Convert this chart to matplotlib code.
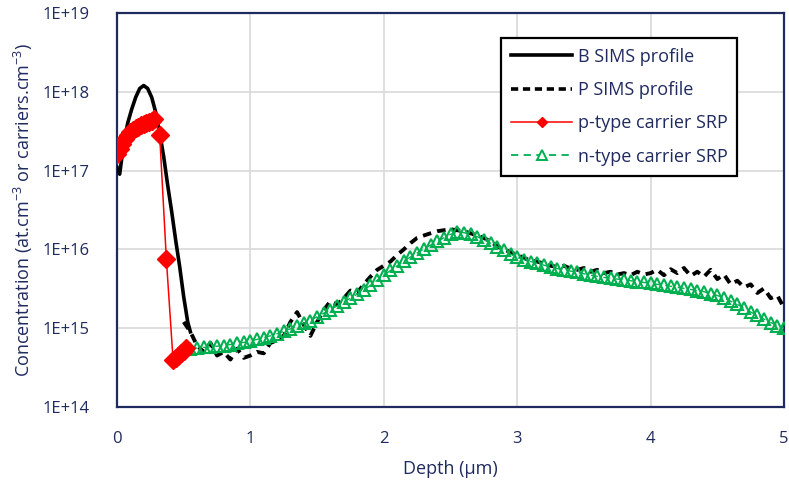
import numpy as np
import matplotlib
matplotlib.use('Agg')
import matplotlib.pyplot as plt
from matplotlib.lines import Line2D
from matplotlib.ticker import FixedLocator, FixedFormatter

plt.rcParams['font.family'] = ['Open Sans', 'DejaVu Sans']
plt.rcParams['mathtext.fontset'] = 'custom'
plt.rcParams['mathtext.rm'] = 'Open Sans'
plt.rcParams['mathtext.default'] = 'regular'

navy = '#1F2A5E'
green = '#00B050'

# B SIMS profile (solid black)
b_depth = [0.0, 0.02, 0.05, 0.08, 0.11, 0.14, 0.17, 0.20, 0.23, 0.26, 0.29, 0.32,
           0.35, 0.38, 0.41, 0.44, 0.47, 0.50, 0.53, 0.55]
b_conc = [1.1e17, 9e16, 2.2e17, 4.0e17, 6.0e17, 8.5e17, 1.1e18, 1.2e18, 1.1e18, 8.5e17,
          5.5e17, 3.0e17, 1.5e17, 6.5e16, 3.0e16, 1.3e16, 6.0e15, 2.5e15, 1.2e15, 9e14]

# P SIMS profile (dashed black), depth 0.50 .. 5.00 step 0.05, units 1e14
p_depth = np.round(np.arange(0.50, 5.001, 0.05), 2)
p_conc = np.array([
    12, 9, 6, 5, 6.5, 4.5, 5, 4, 5.5, 4.2,
    4.5, 5, 4.8, 6.5, 7, 8, 12, 16, 11, 8,
    12, 17, 22, 20, 24, 30, 28, 36, 45, 55,
    62, 70, 85, 100, 120, 140, 150, 160, 170, 175,
    180, 175, 170, 160, 150, 140, 125, 110, 100, 92,
    85, 78, 72, 70, 66, 62, 60, 62, 57, 55,
    58, 52, 55, 50, 52, 48, 50, 47, 52, 48,
    50, 55, 47, 56, 50, 58, 46, 52, 45, 55,
    42, 48, 36, 40, 33, 36, 28, 32, 24, 26,
    18]) * 1e14

# p-type carrier SRP (red diamonds)
ps_depth = [0.0, 0.02, 0.04, 0.06, 0.08, 0.10, 0.12, 0.14, 0.16, 0.18, 0.20, 0.22,
            0.24, 0.26, 0.28, 0.32, 0.37, 0.42, 0.44, 0.46, 0.48, 0.50, 0.52]
ps_conc = [1.6e17, 1.9e17, 2.2e17, 2.5e17, 2.8e17, 3.1e17, 3.3e17, 3.5e17, 3.6e17,
           3.8e17, 3.9e17, 4.0e17, 4.1e17, 4.3e17, 4.5e17, 2.8e17, 7.5e15, 4.0e14,
           4.2e14, 4.5e14, 4.8e14, 5.2e14, 5.6e14]

# n-type carrier SRP (green triangles), depth 0.55 .. 5.00 step 0.05, units 1e14
ns_depth = np.round(np.arange(0.55, 5.001, 0.05), 2)
ns_conc = np.array([
    5.5, 5.6, 5.7, 5.8, 5.9, 6.0, 6.2, 6.4, 6.6, 6.9,
    7.2, 7.6, 8.0, 8.5, 9.1, 9.8, 10.6, 11.5, 12.5, 14,
    15.5, 17.2, 19.2, 21.5, 24, 27, 30.5, 35, 40.5, 47,
    54, 62, 71, 80, 90, 101, 113, 126, 140, 155,
    165, 163, 155, 145, 133, 120, 108, 97, 87, 79,
    74, 70, 67, 63, 60, 57, 55, 53, 51, 49,
    47, 45.5, 44, 43, 42, 41, 40, 39, 38, 37,
    36, 35, 34, 33, 32, 31, 30, 29, 27.5, 26,
    24, 22, 20, 18, 16, 14.5, 13, 11.8, 10.8, 10]) * 1e14

ytick_vals = [1e14, 1e15, 1e16, 1e17, 1e18, 1e19]
ytick_labels = ['1E+14', '1E+15', '1E+16', '1E+17', '1E+18', '1E+19']

fig = plt.figure(figsize=(7.89, 4.86), dpi=100)
ax = fig.add_axes([0.1483, 0.1626, 0.8454, 0.8107])

ax.plot(b_depth, b_conc, color='black', lw=2.6, zorder=3)
ax.plot(p_depth, p_conc, color='black', lw=2.8, linestyle=(0, (2.2, 1.6)), zorder=3)
ax.plot(ps_depth, ps_conc, color='red', lw=1.1, marker='D', ms=9.5,
        markerfacecolor='red', markeredgecolor='red', zorder=5)
ax.plot(ns_depth, ns_conc, color=green, lw=1.0, linestyle=(0, (5, 4)), marker='^', ms=8,
        markerfacecolor='none', markeredgecolor=green, markeredgewidth=1.5, zorder=4)

ax.set_yscale('log')
ax.set_ylim(1e14, 1e19)
ax.set_xlim(0, 5)
ax.yaxis.set_major_locator(FixedLocator(ytick_vals))
ax.yaxis.set_major_formatter(FixedFormatter(ytick_labels))
ax.yaxis.set_minor_locator(FixedLocator([]))
ax.set_xticks([0, 1, 2, 3, 4, 5])

ax.grid(True, color='#D9D9D9', lw=1.2)
ax.set_axisbelow(True)
for s in ax.spines.values():
    s.set_color(navy)
    s.set_linewidth(1.6)
ax.tick_params(axis='y', length=0, labelsize=12, colors=navy, pad=20)
ax.tick_params(axis='x', length=0, labelsize=12, colors=navy, pad=17)

ax.set_xlabel('Depth (µm)', fontsize=13, color=navy, labelpad=10)
ax.set_ylabel('Concentration (at.cm$^{-3}$ or carriers.cm$^{-3}$)', fontsize=13,
              color=navy, labelpad=5)

handles = [
    Line2D([], [], color='black', lw=2.6),
    Line2D([], [], color='black', lw=2.6, linestyle=(0, (2.0, 1.3))),
    Line2D([], [], color='red', lw=1.1, marker='D', ms=5),
    Line2D([], [], color=green, lw=1.3, linestyle=(0, (4, 3)), marker='^', ms=7.5,
           markerfacecolor='white', markeredgewidth=1.4),
]
labels = ['B SIMS profile', 'P SIMS profile', 'p-type carrier SRP', 'n-type carrier SRP']
leg = ax.legend(handles, labels, loc='upper right', bbox_to_anchor=(0.930, 0.937),
                fontsize=13, labelcolor=navy, fancybox=False, framealpha=1,
                edgecolor='black', handlelength=3.4, handletextpad=0.3,
                labelspacing=0.85, borderpad=0.55, borderaxespad=0)
leg.get_frame().set_linewidth(1.6)

fig.savefig('out.png', dpi=100)
